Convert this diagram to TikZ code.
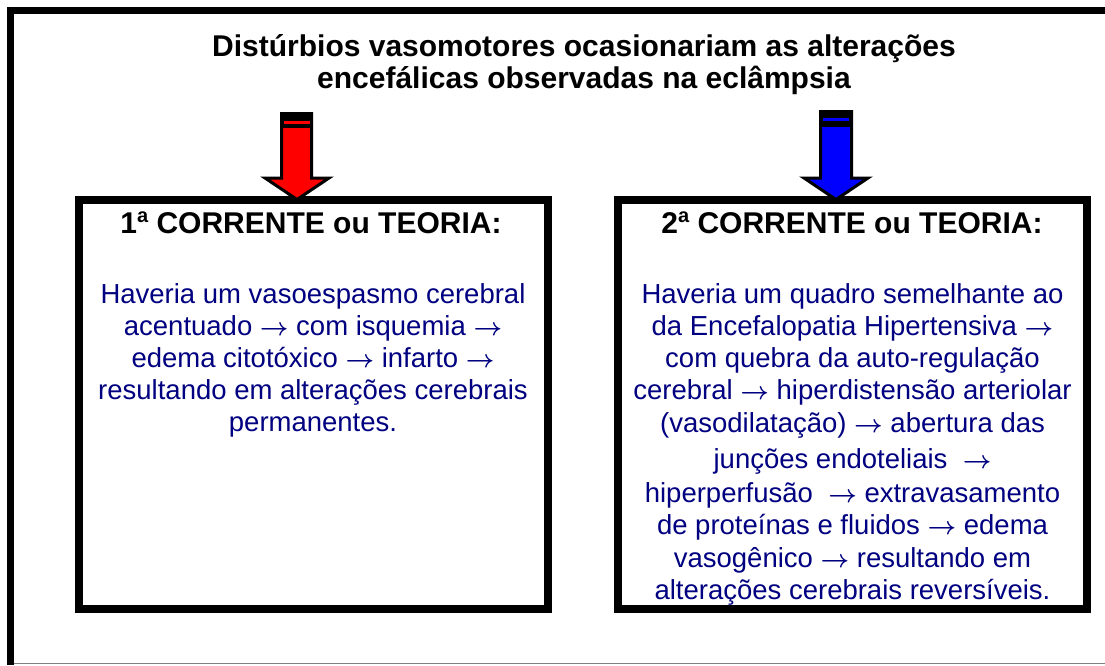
\documentclass[tikz,border=0pt]{standalone}
\usepackage{fontspec}
\setmainfont{Liberation Sans}
\definecolor{navy}{RGB}{0,0,128}
\newcommand{\ra}{\mbox{\boldmath$\rightarrow$}}
\newcommand{\ordA}{\raisebox{10.5pt}{\fontsize{20}{20}\selectfont a}}
\begin{document}
\begin{tikzpicture}[x=1pt,y=-1pt,
  frame/.style={line width=7pt},
  theorybox/.style={draw=black,line width=8pt},
  titletext/.style={font=\fontsize{30}{32}\selectfont\bfseries,anchor=base,inner sep=0pt},
  headtext/.style={font=\fontsize{30}{32}\selectfont\bfseries,anchor=base,inner sep=0pt},
  bodytext/.style={font=\fontsize{27.5}{32}\selectfont,text=navy,anchor=base,inner sep=0pt},
  blockarrow/.style={draw=black,line width=3pt,line join=miter},
]
\useasboundingbox (0,0) rectangle (1105,665);
% outer frame
\draw[frame] (10.5,665) -- (10.5,10.5) -- (1105,10.5);
\draw[gray,line width=1.5pt] (14,663.5) -- (1105,663.5);

% title
\node[titletext] (t1) at (584,56) {Distúrbios vasomotores ocasionariam as alterações};
\node[titletext] (t2) at (584,88) {encefálicas observadas na eclâmpsia};

% boxes
\draw[theorybox] (79,199.5) rectangle (548,609);
\draw[theorybox] (618,199.5) rectangle (1087,609);
\coordinate (box1top) at (297,199.5);
\coordinate (box2top) at (836,199.5);

% red arrow
\draw[blockarrow,fill=red] (281.5,113.5) -- (311.5,113.5) -- (311.5,178) -- (329,178) -- (box1top) -- (265,178) -- (281.5,178) -- cycle;
\fill[black] (280,112) rectangle (313,128);
\fill[red] (284,121) rectangle (310,124);

% blue arrow
\draw[blockarrow,fill=blue] (820.5,111.5) -- (851.5,111.5) -- (851.5,178) -- (868,178) -- (box2top) -- (804,178) -- (820.5,178) -- cycle;
\fill[black] (819,110) rectangle (853,127);
\fill[blue] (823,118) rectangle (849,121);

% headers
\node[headtext] (h1) at (311,233) {1\ordA\ CORRENTE ou TEORIA:};
\node[headtext] (h2) at (852,233) {2\ordA\ CORRENTE ou TEORIA:};

% left body
\node[bodytext] (l1) at (313,303) {Haveria um vasoespasmo cerebral};
\node[bodytext] (l2) at (313,335) {acentuado \ra{} com isquemia \ra};
\node[bodytext] (l3) at (313,367) {edema citotóxico \ra{} infarto \ra};
\node[bodytext] (l4) at (313,399) {resultando em alterações cerebrais};
\node[bodytext] (l5) at (313,431) {permanentes.};

% right body
\node[bodytext] (r1) at (852.5,303) {Haveria um quadro semelhante ao};
\node[bodytext] (r2) at (852.5,335) {da Encefalopatia Hipertensiva \ra};
\node[bodytext] (r3) at (852.5,367) {com quebra da auto-regulação};
\node[bodytext] (r4) at (852.5,399) {cerebral \ra{} hiperdistensão arteriolar};
\node[bodytext] (r5) at (852.5,432) {(vasodilatação) \ra{} abertura das};
\node[bodytext] (r6) at (852.5,468) {junções endoteliais \ \ra};
\node[bodytext] (r7) at (852.5,502) {hiperperfusão \ \ra{} extravasamento};
\node[bodytext] (r8) at (852.5,534) {de proteínas e fluidos \ra{} edema};
\node[bodytext] (r9) at (852.5,567) {vasogênico \ra{} resultando em};
\node[bodytext] (r10) at (852.5,599) {alterações cerebrais reversíveis.};
\end{tikzpicture}
\end{document}
